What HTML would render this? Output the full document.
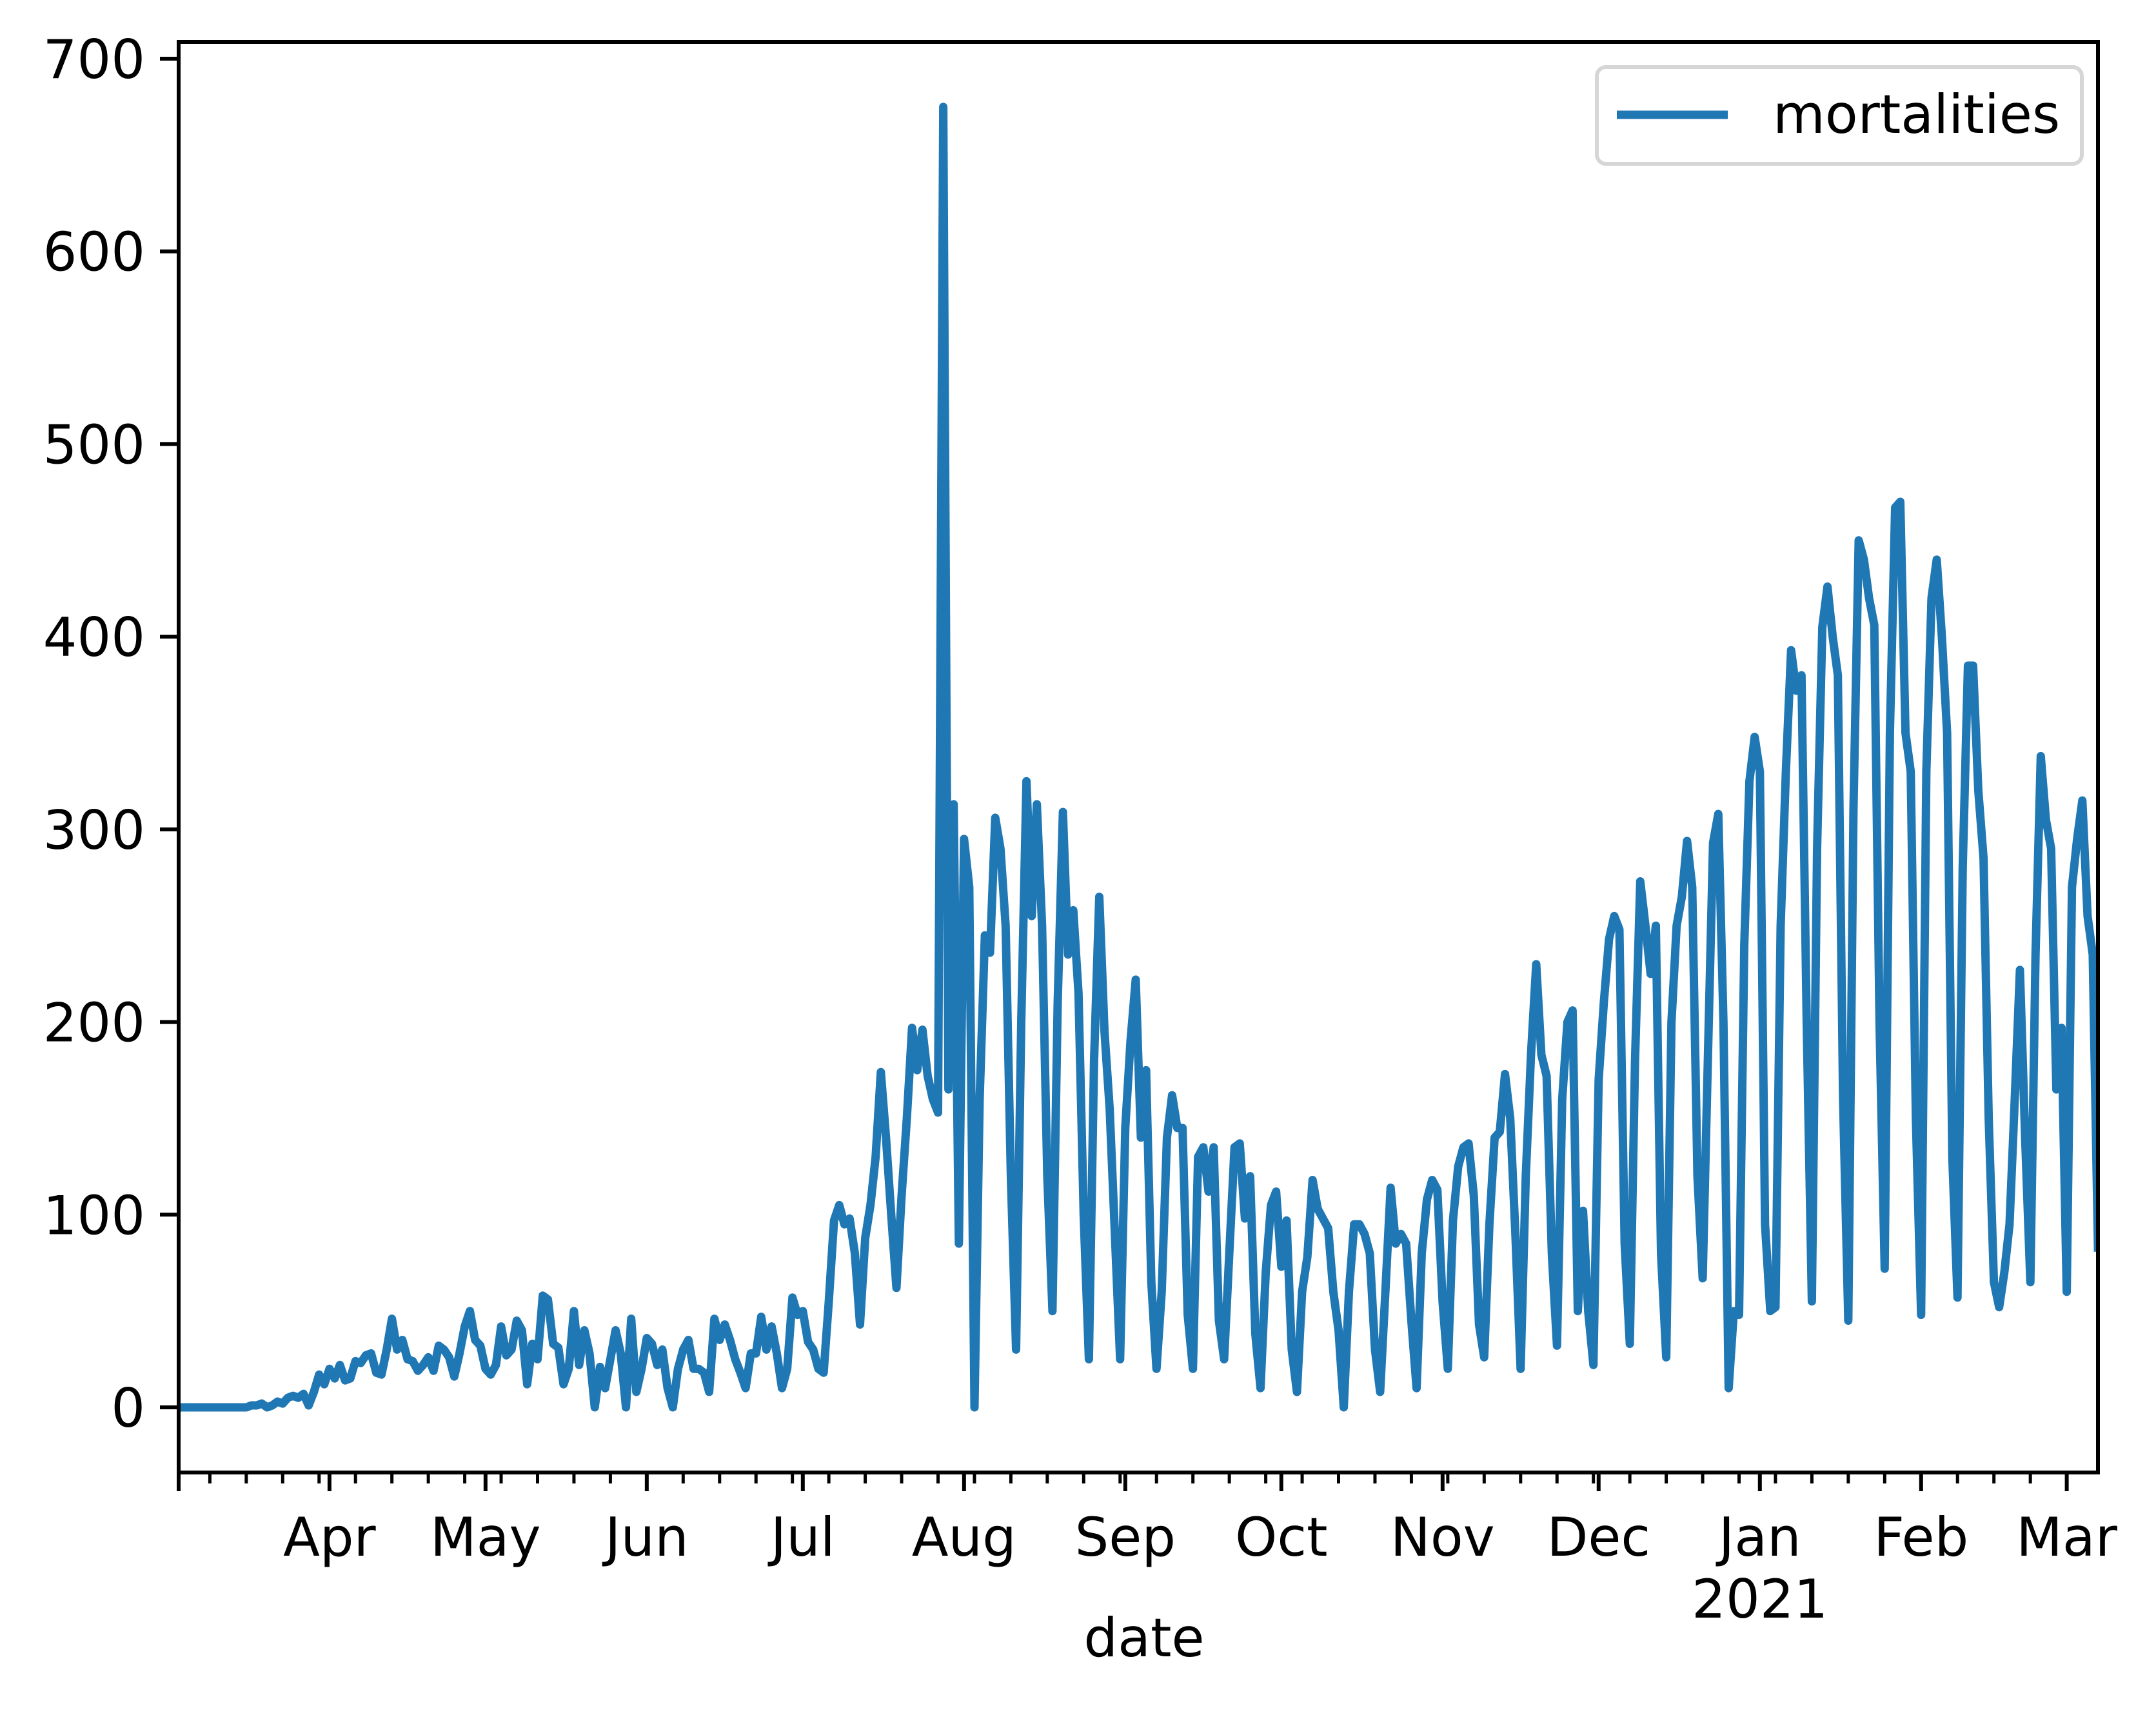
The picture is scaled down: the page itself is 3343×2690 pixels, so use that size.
<!DOCTYPE html>
<html><head><meta charset="utf-8"><style>
html,body{margin:0;padding:0;background:#fff;}
svg{display:block;font-family:"DejaVu Sans","Liberation Sans",sans-serif;}
</style></head><body>
<svg id="chart" width="3343" height="2690" viewBox="0 0 3343 2690" xmlns="http://www.w3.org/2000/svg">
<rect width="3343" height="2690" fill="#fff"/>
<g id="plot"></g>
<g id="axes"></g>
<g>
<rect x="2476" y="104" width="752" height="150" rx="14" fill="#fff" fill-opacity="0.8" stroke="#d6d6d6" stroke-width="6"/>
<line x1="2507" y1="178" x2="2679" y2="178" stroke="#1f77b4" stroke-width="13"/>
<text x="2749" y="206" font-size="83" fill="#000">mortalities</text>
</g>
<text x="1774" y="2568" font-size="83" text-anchor="middle">date</text>
</svg>
<script>
const monthLabels = ["Apr","May","Jun","Jul","Aug","Sep","Oct","Nov","Dec","Jan","Feb","Mar"];
const monthDays = [29,59,90,120,151,182,212,243,273,304,335,363];
const yTicks = [0,100,200,300,400,500,600,700];
const mar20 = [0,0,0,0,0,0,0,0,0,0,0,0,0,0,1,1,2,0,1,3,2,5,6,5,7,1,8,17,12];
const apr20 = [20,15,22,14,15,24,23,27,28,18,17,30,46,30,35,25,24,19,22,26,19,32,30,26,16,28,42,50,35,32];
const may20 = [20,17,22,42,27,30,45,40,12,33,25,58,56,33,31,12,20,50,22,40,28,0,21,10,25,40,28,0,46,8,20];
const jun20 = [36,33,22,30,10,0,20,30,35,20,20,18,8,46,35,43,35,25,18,10,28,28,47,30,42,28,10,20,57,48];
const jul20 = [50,34,30,20,18,55,97,105,95,98,80,43,88,105,130,174,140,100,62,110,150,197,175,196,172,160,153,675,165,313,85];
const aug20 = [295,270,0,160,245,236,306,290,250,120,30,200,325,255,313,250,120,50,210,309,235,258,215,100,25,180,265,195,155,90,25];
const sep20 = [145,190,222,140,175,65,20,60,140,162,145,145,48,20,130,135,112,135,45,25,80,135,137,98,120,38,10,70,105,112];
const oct20 = [73,97,30,8,60,78,118,103,98,93,60,40,0,60,95,95,90,80,30,8,60,114,85,90,85,45,10,80,108,118,113];
const nov20 = [55,20,97,125,135,137,110,43,26,95,140,143,173,150,90,20,120,183,230,183,172,80,32,160,200,206,50,102,50,22];
const dec20 = [170,210,243,255,248,85,33,180,273,250,225,250,80,26,200,250,265,294,270,120,67,180,293,308,200,10,50,48,240,325,348];
const jan21 = [330,95,50,52,250,330,393,372,380,200,55,290,405,426,400,380,160,45,310,450,440,420,406,200,72,350,467,470,350,330,150];
const feb21 = [48,330,420,440,400,350,130,57,280,385,385,320,285,150,65,52,70,95,160,227,140,65,235,338,305,290,165,197];
const mar21 = [60,270,295,315,255,235,83];
const values = [].concat(mar20,apr20,may20,jun20,jul20,aug20,sep20,oct20,nov20,dec20,jan21,feb21,mar21);

const L=277,R=3253,T=65,B=2283;
const xMax=369, yMin=-33.8, yMax=708.7;
function xs(d){return L+(d/xMax)*(R-L);}
function ys(v){return B-(v-yMin)/(yMax-yMin)*(B-T);}
const NS="http://www.w3.org/2000/svg";
const plot=document.getElementById('plot');
const axes=document.getElementById('axes');
function mk(tag,attrs,parent){const e=document.createElementNS(NS,tag);for(const k in attrs)e.setAttribute(k,attrs[k]);parent.appendChild(e);return e;}

const pts=values.map((v,i)=>xs(i).toFixed(1)+","+ys(v).toFixed(1)).join(" ");
const line=mk('polyline',{points:pts,fill:'none',stroke:'#1f77b4','stroke-width':13,'stroke-linejoin':'round','stroke-linecap':'square'},plot);


plot.setAttribute('clip-path','url(#clip)');
const defs=mk('defs',{},document.getElementById('chart'));
const cp=mk('clipPath',{id:'clip'},defs);
mk('rect',{x:L,y:T,width:R-L,height:B-T},cp);

for(let d=6; d<=xMax; d+=7){
  if(monthDays.includes(d)) continue;
  const t=mk('line',{x1:xs(d),x2:xs(d),y1:B,y2:B+17,stroke:'#000','stroke-width':5},axes);
  
  
}
const t0=mk('line',{x1:L,x2:L,y1:B,y2:B+29,stroke:'#000','stroke-width':6},axes);


monthDays.forEach((d,i)=>{
  const t=mk('line',{x1:xs(d),x2:xs(d),y1:B,y2:B+29,stroke:'#000','stroke-width':6},axes);
  
  
  const lb=mk('text',{x:xs(d),y:2412,'font-size':83,'text-anchor':'middle'},axes);
  lb.textContent=monthLabels[i];
  
  
});
const yr=mk('text',{x:xs(304),y:2508,'font-size':83,'text-anchor':'middle'},axes);
yr.textContent='2021';


yTicks.forEach(v=>{
  const t=mk('line',{x1:L-29,x2:L,y1:ys(v),y2:ys(v),stroke:'#000','stroke-width':6},axes);
  
  
  const lb=mk('text',{x:L-52,y:ys(v)+30,'font-size':83,'text-anchor':'end'},axes);
  lb.textContent=String(v);
  
  
});
const frame=mk('rect',{x:L,y:T,width:R-L,height:B-T,fill:'none',stroke:'#000','stroke-width':6,'stroke-linejoin':'miter'},axes);


</script>
</body></html>
